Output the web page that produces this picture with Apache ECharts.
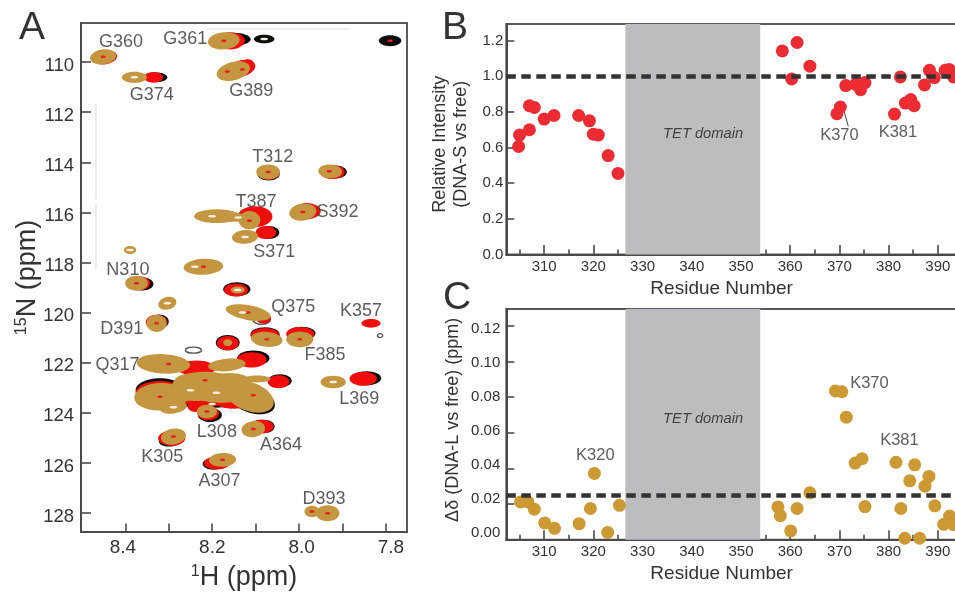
<!DOCTYPE html>
<html>
<head>
<meta charset="utf-8">
<style>html,body{margin:0;padding:0;background:#fff}#c{width:955px;height:593px}</style>
<script src="https://cdn.jsdelivr.net/npm/echarts@6/dist/echarts.min.js"></script>
</head>
<body>
<div id="c"></div>
<script>
// ---------- Panel A: peaks as [1H ppm, 15N ppm, 1H width, 15N width, tilt] ----------
const peaksBlack = [
[8.151,109.09,.074,.48,0],[8.080,109.08,.044,.32,0],[7.790,109.15,.048,.40,0],[8.328,110.61,.046,.36,0],
[8.07,114.47,.048,.48,0],[7.917,114.39,.051,.48,0],[8.166,116.04,.028,.2,0],[8.070,116.80,.046,.48,0],
[8.360,118.86,.046,.48,0],[8.143,119.07,.058,.52,0],[8.322,120.36,.041,.52,0],[8.078,120.87,.062,.52,0],
[7.994,120.83,.060,.48,0],[8.164,121.20,.051,.56,0],[8.105,121.82,.069,.56,0],[8.044,122.72,.051,.48,0],
[7.844,122.62,.062,.52,0],[8.320,123.10,.104,.88,0],[8.110,123.45,.106,1.0,-20],[8.212,123.55,.138,.48,0],
[8.205,124.09,.051,.52,0],[8.078,124.55,.041,.48,0],[8.293,125.08,.055,.48,10],[8.197,126.04,.046,.44,0]
];
const peaksRed = [
[8.447,109.81,.053,.52,8],[8.159,109.15,.064,.64,0],[8.335,110.61,.041,.40,0],[8.132,110.25,.06,.6,15],
[8.117,110.08,.025,.36,0],[8.07,114.42,.048,.52,0],[7.923,114.39,.053,.52,0],[8.101,116.17,.074,.76,0],
[7.982,115.95,.060,.60,0],[8.076,116.80,.044,.48,0],[8.368,118.83,.046,.52,0],[8.145,119.10,.051,.48,0],
[8.328,120.39,.046,.56,0],[8.082,120.23,.032,.40,0],[7.834,120.43,.041,.32,0],[8.078,120.92,.062,.56,0],
[7.997,120.86,.060,.52,0],[8.164,121.22,.046,.52,0],[8.109,121.89,.064,.56,0],[8.047,122.76,.046,.48,0],
[7.852,122.64,.058,.52,0],[8.320,123.21,.104,.88,0],[8.212,123.09,.161,1.2,0],[8.236,122.22,.081,.56,0],
[8.151,123.41,.092,.8,0],[8.239,123.75,.032,.4,0],[8.209,124.02,.046,.52,0],[8.086,124.55,.051,.52,0],
[8.293,125.02,.058,.56,0],[8.189,126.01,.055,.48,0]
];
const peaksTan = [
[8.451,109.79,.053,.52,8],[8.173,109.15,.064,.60,5],[8.379,110.61,.051,.40,0],[8.151,110.36,.069,.64,15],
[8.071,114.39,.048,.52,0],[7.928,114.36,.048,.48,-3],[8.189,116.15,.092,.48,0],[8.150,116.2,.05,.3,0],
[8.114,116.31,.044,.64,0],[7.991,115.99,.055,.60,8],[8.124,116.98,.053,.48,5],[8.389,117.50,.025,.28,0],
[8.220,118.17,.080,.56,3],[8.374,118.83,.046,.52,0],[8.141,119.10,.028,.24,0],[8.303,119.63,.037,.44,15],
[8.117,120.00,.092,.52,-10],[8.328,120.43,.041,.60,0],[8.074,121.07,.064,.52,-5],[7.998,121.07,.055,.56,0],
[8.164,121.20,.018,.24,0],[8.312,122.05,.108,.68,-3],[8.166,122.09,.076,.44,5],[8.216,122.89,.131,.92,0],
[8.320,123.36,.104,.96,3],[8.236,123.21,.108,.56,0],[8.113,123.36,.101,1.0,-20],[8.151,122.69,.055,.40,0],
[8.097,122.65,.055,.24,0],[7.921,122.77,.051,.44,0],[8.289,123.78,.055,.44,8],[8.212,123.95,.041,.48,0],
[8.105,124.65,.048,.56,8],[8.289,124.95,.051,.56,10],[8.176,125.88,.055,.48,3],[7.970,127.94,.030,.40,0],
[7.934,128.01,.048,.56,0],[8.251,122.89,.07,.8,0],[8.29,123.3,.07,.7,0],[8.18,123.2,.12,.7,0],[8.16,122.7,.08,.5,0]
];
const peaksRing = [[8.086,120.27,.041,.40,0],[8.243,121.50,.037,.24,0],[7.813,120.92,.012,.16,0]];
const coresRed = [[8.451,109.79],[8.173,109.15],[8.165,110.38],[8.13,110.3],[8.071,114.39],[7.93,114.36],[8.114,116.33],
[7.991,115.99],[8.374,118.83],[8.117,120.0],[8.328,120.43],[8.074,121.07],[7.998,121.07],[8.30,122.05],[8.32,123.36],
[8.216,122.7],[8.105,123.3],[8.212,123.95],[8.105,124.65],[8.289,124.95],[8.176,125.88],[7.934,128.01],[8.220,118.17],[7.97,127.94],[7.79,109.15]];
const coresWhite = [[8.379,110.61],[8.124,116.98],[8.389,117.5],[8.20,116.15],[8.14,116.2],[8.24,118.17],[8.25,123.1],
[8.19,123.2],[8.289,123.78],[7.921,122.77],[8.141,119.1],[8.303,119.63],[8.13,120.0],[8.2,123.65],[8.08,109.08]];
const peakLabels = [
[8.41,109.19,'G360'],[8.262,109.08,'G361'],[8.339,111.30,'G374'],[8.110,111.15,'G389'],[8.060,113.78,'T312'],
[8.099,115.59,'T387'],[7.911,115.97,'S392'],[8.057,117.59,'S371'],[8.394,118.30,'N310'],[8.013,119.76,'Q375'],
[7.857,119.92,'K357'],[8.408,120.65,'D391'],[7.940,121.70,'F385'],[8.418,122.10,'Q317'],[7.861,123.45,'L369'],
[8.189,124.75,'L308'],[8.041,125.30,'A364'],[8.315,125.75,'K305'],[8.183,126.72,'A307'],[7.942,127.43,'D393']
];
const faintTraces = [[8.212,108.68],[7.883,108.68],[null,null],[8.4675,111.68],[8.4675,115.5],[null,null],[8.4675,115.7],[8.4675,118.3]];
const hTicks = [8.4,8.3,8.2,8.1,8.0,7.9,7.8];
const hLabels = [8.4,8.2,8.0,7.8];
const nTicks = [110,112,114,116,118,120,122,124,126,128];

// ---------- Panels B and C ----------
const residueTicks = [310,320,330,340,350,360,370,380,390];
const residueMinor = [305,315,325,335,345,355,365,375,385,395];
const intensity = [
[304.8,.606],[305,.67],[307,.70],[307,.835],[308,.825],[310,.76],[312,.78],[317,.78],[319.2,.75],[320,.675],[321,.67],
[323,.555],[325,.455],[358.4,1.143],[361.4,1.19],[360.3,.985],[364,1.057],[369.5,.79],[370.2,.828],[371.3,.948],
[373.3,.955],[374.3,.925],[375.2,.965],[381.2,.788],[382.4,.997],[383.4,.85],[384.5,.87],[385.2,.835],[387.3,.952],
[388.3,1.034],[389.3,.993],[391.5,1.034],[392.3,1.039],[393.2,.997]
];
const shift = [
[305.2,.0212],[306.7,.0212],[308,.0171],[310.1,.0094],[312.1,.0064],[317.1,.009],[319.4,.0175],[320.2,.0372],[322.9,.0041],
[325.3,.0193],[357.5,.0184],[358,.0135],[360.1,.0049],[361.4,.0175],[364,.0263],[369.2,.0834],[370.5,.083],[371.4,.0687],
[373.2,.043],[374.6,.0454],[375.2,.0186],[381.5,.0434],[382.5,.0175],[383.3,.0008],[384.3,.033],[385.3,.042],[386.3,.0008],
[387.4,.030],[388.2,.0355],[389.4,.019],[391.2,.0086],[392.4,.0133],[393.2,.0085]
];
const intensityTicks = [0,.2,.4,.6,.8,1,1.2];
const shiftTicks = [0,.02,.04,.06,.08,.10,.12];
const tetDomain = [326.5,353.9];
const intensityRef = 1.0;
const shiftRef = 0.025;
const intensityLabels = [[370,.668,'K370'],[381.9,.683,'K381']];
const intensityCaption = [[342.3,.677,'TET domain']];
const shiftLabels = [[320.4,.0473,'K320'],[376.1,.0874,'K370'],[382.2,.0555,'K381']];
const shiftCaption = [[342.3,.0677,'TET domain']];
const k370Leader = [[371,.80],[371.8,.72]];

const FONT = '"Liberation Sans", Arial, sans-serif';
const INK = '#333333';

function ellipses(color, stroke, grow) {
  return function (params, api) {
    const c = api.coord([api.value(0), api.value(1)]);
    const s = api.size([api.value(2), api.value(3)], [api.value(0), api.value(1)]);
    return {
      type: 'ellipse', x: c[0], y: c[1], rotation: api.value(4) * Math.PI / 180,
      shape: { cx: 0, cy: 0, rx: grow * s[0] / 2, ry: grow * s[1] / 2 },
      style: stroke ? { fill: '#fff', stroke: stroke, lineWidth: 1.4 } : { fill: color }
    };
  };
}
function peakSeries(data, color, z, stroke, grow) {
  return { type: 'custom', xAxisIndex: 0, yAxisIndex: 0, z: z, silent: true, data: data,
    renderItem: ellipses(color, stroke, grow || 1), encode: { x: 0, y: 1 } };
}
function coreSeries(points, dH, dN, color, z) {
  return peakSeries(points.map(p => [p[0], p[1], dH, dN, 0]), color, z);
}
function textSeries(rows, xi, yi, size, z, extra) {
  return { type: 'scatter', xAxisIndex: xi, yAxisIndex: yi, z: z, silent: true, symbolSize: 0, clip: false,
    data: rows.map(r => ({ value: [r[0], r[1]], name: r[2] })),
    label: Object.assign({ show: true, position: 'inside', formatter: p => p.name, fontFamily: FONT, fontSize: size, color: INK }, extra || {}),
    labelLayout: { hideOverlap: false } };
}
function dots(data, color, xi, yi, z) {
  return { type: 'scatter', xAxisIndex: xi, yAxisIndex: yi, z: z, silent: true, clip: false, symbolSize: 13,
    data: data, itemStyle: { color: color, opacity: 1 } };
}
function bandAndRef(xi, yi, ref, lineZ) {
  return [
    { type: 'scatter', xAxisIndex: xi, yAxisIndex: yi, z: 1, silent: true, data: [],
      markArea: { silent: true, itemStyle: { color: '#bcbdc0' }, data: [[{ xAxis: tetDomain[0] }, { xAxis: tetDomain[1] }]] } },
    { type: 'scatter', xAxisIndex: xi, yAxisIndex: yi, z: lineZ, silent: true, data: [],
      markLine: { silent: true, symbol: 'none', animation: false, precision: 4, label: { show: false },
        lineStyle: { color: '#333', width: 4.5, type: [9.5, 5.5] }, data: [{ yAxis: ref }] } }
  ];
}
const line = { show: true, onZero: false, lineStyle: { color: '#4a4a4a', width: 2 } };
const tick = (values, len) => ({ show: true, inside: true, length: len, customValues: values, lineStyle: { color: '#4a4a4a', width: 1.6 } });
const noSplit = { show: false };
const hidden = { axisLine: { show: false }, axisTick: { show: false }, splitLine: noSplit };
const italicCaption = { fontStyle: 'italic', color: '#222' };

function residueAxes(grid) {
  return [
    { type: 'value', gridIndex: grid, position: 'bottom', min: 302.3, max: 400, axisLine: line, splitLine: noSplit,
      axisTick: tick(residueTicks, 9.5),
      axisLabel: { customValues: residueTicks, margin: 5, fontFamily: FONT, fontSize: 15, color: INK },
      name: 'Residue Number', nameLocation: 'middle', nameGap: 25,
      nameTextStyle: { fontFamily: FONT, fontSize: 19, color: INK, padding: [0, 50, 0, 0] } },
    { type: 'value', gridIndex: grid, position: 'bottom', min: 302.3, max: 400, axisLine: { show: false }, splitLine: noSplit,
      axisTick: tick(residueMinor, 5), axisLabel: { show: false } }
  ];
}
const gridBase = { show: true, borderColor: '#5a5a5a', borderWidth: 2, backgroundColor: 'transparent', outerBoundsMode: 'none' };

const option = {
  animation: false,
  backgroundColor: '#fff',
  textStyle: { fontFamily: FONT },
  grid: [
    { ...gridBase, left: 81, top: 23, width: 326, height: 509 },
    { ...gridBase, left: 506.3, top: 24, width: 480.7, height: 230.4 },
    { ...gridBase, left: 506.3, top: 309, width: 480.7, height: 230.7 }
  ],
  xAxis: [
    { type: 'value', gridIndex: 0, position: 'bottom', inverse: true, min: 7.751, max: 8.502, axisLine: line, splitLine: noSplit,
      axisTick: tick(hTicks, 8.5), axisLabel: { show: false },
      name: '{s|1}{m|H (ppm)}', nameLocation: 'middle', nameGap: 32,
      nameTextStyle: { color: INK, rich: {
        s: { fontFamily: FONT, fontSize: 16, color: INK, verticalAlign: 'top', lineHeight: 27 },
        m: { fontFamily: FONT, fontSize: 27, color: INK, lineHeight: 27 } } } },
    { type: 'value', gridIndex: 0, position: 'bottom', inverse: true, min: 7.764, max: 8.494, ...hidden,
      axisLabel: { show: true, customValues: hLabels, margin: 6, formatter: v => v.toFixed(1), fontFamily: FONT, fontSize: 19, color: INK } },
    ...residueAxes(1),
    ...residueAxes(2)
  ],
  yAxis: [
    { type: 'value', gridIndex: 0, position: 'left', inverse: true, min: 108.44, max: 128.76, axisLine: line, splitLine: noSplit,
      axisTick: tick(nTicks, 10), axisLabel: { show: false },
      name: '{s|15}{m|N (ppm)}', nameLocation: 'middle', nameGap: 40,
      nameTextStyle: { color: INK, rich: {
        s: { fontFamily: FONT, fontSize: 16, color: INK, verticalAlign: 'top', lineHeight: 27 },
        m: { fontFamily: FONT, fontSize: 27, color: INK, lineHeight: 27 } } } },
    { type: 'value', gridIndex: 1, min: 0, max: 1.294, axisLine: line, splitLine: noSplit,
      axisTick: tick(intensityTicks, 8),
      axisLabel: { customValues: intensityTicks, margin: 3, formatter: v => v.toFixed(1), fontFamily: FONT, fontSize: 15, color: INK },
      name: 'Relative Intensity\n(DNA-S vs free)', nameLocation: 'middle', nameGap: 25,
      nameTextStyle: { fontFamily: FONT, fontSize: 18, lineHeight: 21, color: INK, padding: [0, 10, 0, 0] } },
    { type: 'value', gridIndex: 2, position: 'left', min: 0, max: .1294, axisLine: line, splitLine: noSplit,
      axisTick: tick(shiftTicks, 8), axisLabel: { show: false },
      name: 'Δδ (DNA-L vs free) (ppm)', nameLocation: 'middle', nameGap: 44,
      nameTextStyle: { fontFamily: FONT, fontSize: 18, color: INK, padding: [0, 0, 0, 9] } },
    { type: 'value', gridIndex: 2, position: 'left', min: -.0041, max: .1315, ...hidden,
      axisLabel: { show: true, customValues: shiftTicks, margin: 6, formatter: v => v.toFixed(2), fontFamily: FONT, fontSize: 15, color: INK } },
    { type: 'value', gridIndex: 0, position: 'left', inverse: true, min: 108.296, max: 128.616, ...hidden,
      axisLabel: { show: true, customValues: nTicks, margin: 7, fontFamily: FONT, fontSize: 18.5, color: INK } }
  ],
  series: [
    { type: 'line', xAxisIndex: 0, yAxisIndex: 0, z: 1, silent: true, symbol: 'none', connectNulls: false,
      data: faintTraces, lineStyle: { color: '#dcdcdc', width: 1 } },
    peakSeries(peaksBlack, '#0d0d0d', 2, null, 1.08),
    peakSeries(peaksRing, '#fff', 3, '#555'),
    peakSeries(peaksRed, '#f20d0d', 4, null, 1.08),
    peakSeries(peaksTan, '#c3963f', 5, null, 1.14),
    coreSeries(coresRed, .012, .1, '#e8201a', 6),
    coreSeries(coresWhite, .018, .1, '#f6efe2', 6),
    textSeries(peakLabels, 0, 0, 18, 8),

    ...bandAndRef(2, 1, intensityRef, 2),
    dots(intensity, '#ed2b33', 2, 1, 3),
    { type: 'line', xAxisIndex: 2, yAxisIndex: 1, z: 4, silent: true, symbol: 'none', data: k370Leader,
      lineStyle: { color: '#444', width: 1 } },
    textSeries(intensityLabels, 2, 1, 16.5, 5),
    textSeries(intensityCaption, 2, 1, 14.7, 5, italicCaption),

    ...bandAndRef(4, 2, shiftRef, 4),
    dots(shift, '#cc9933', 4, 2, 3),
    textSeries(shiftLabels, 4, 2, 16.5, 5),
    textSeries(shiftCaption, 4, 2, 14.7, 5, italicCaption)
  ],
  graphic: [
    { type: 'text', left: 19, top: 9, z: 20, style: { text: 'A', fontFamily: FONT, fontSize: 39, fill: INK } },
    { type: 'text', left: 442, top: 9, z: 20, style: { text: 'B', fontFamily: FONT, fontSize: 39, fill: INK } },
    { type: 'text', left: 443, top: 279, z: 20, style: { text: 'C', fontFamily: FONT, fontSize: 39, fill: INK } }
  ]
};
echarts.init(document.getElementById('c'), null, { renderer: 'canvas' }).setOption(option);
</script>
</body>
</html>
